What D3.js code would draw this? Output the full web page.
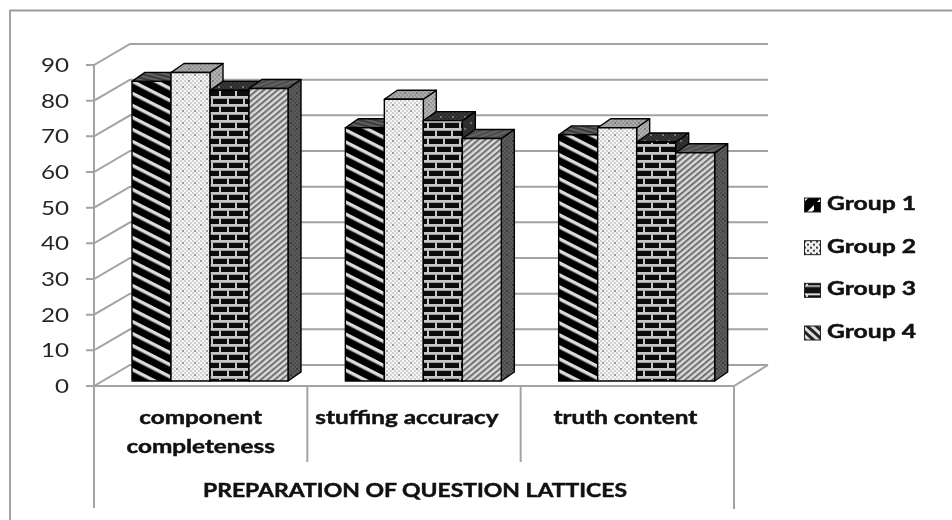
<!DOCTYPE html>
<html><head><meta charset="utf-8">
<script src="https://cdn.jsdelivr.net/npm/d3@7/dist/d3.min.js"></script>
<style>html,body{margin:0;padding:0;background:#fff}svg{display:block;filter:blur(.55px)}</style>
</head><body><svg id="c" width="952" height="520"></svg>
<script>
const categories=[["component","completeness"],["stuffing accuracy"],["truth content"]];
const groups=["Group 1","Group 2","Group 3","Group 4"];
const group1=[84,71,69];
const group2=[86.5,79,71];
const group3=[81.5,73,67];
const group4=[82,68,64];
const seriesValues=[group1,group2,group3,group4];
const yTicks=[0,10,20,30,40,50,60,70,80,90];
const axisTitle="PREPARATION OF QUESTION LATTICES";

const svg=d3.select("#c");
const defs=svg.append("defs");
const gridC="#a3a3a3";

function pat(id,w,h,bg,draw,tf){
  const p=defs.append("pattern").attr("id",id).attr("patternUnits","userSpaceOnUse").attr("width",w).attr("height",h);
  if(tf)p.attr("patternTransform",tf);
  p.append("rect").attr("width",w).attr("height",h).attr("fill",bg);
  draw(p);
}
const stripe=(id,w,bg,fg,sw,ang)=>pat(id,w,w,bg,p=>p.append("rect").attr("width",w).attr("height",sw).attr("fill",fg),`rotate(${ang})`);
function dots(id,bg,fg){pat(id,6,6,bg,p=>{
  p.append("rect").attr("x",0).attr("y",0).attr("width",2).attr("height",2).attr("fill",fg);
  p.append("rect").attr("x",3).attr("y",3).attr("width",2).attr("height",2).attr("fill",fg);
});}
function brick(id,bg,fg){pat(id,16,16,bg,p=>{
  const m=(x,y,w,h)=>p.append("rect").attr("x",x).attr("y",y).attr("width",w).attr("height",h).attr("fill",fg);
  m(0,0,16,2.8);m(0,8,16,2.8);m(3,2.8,2,5.2);m(11,10.8,2,5.2);
});}
function fine(id,bg,fg,dark){pat(id,12,12,bg,p=>{
  for(let i=0;i<12;i+=4)for(let j=0;j<12;j+=4){
    p.append("rect").attr("x",i).attr("y",j).attr("width",2).attr("height",2).attr("fill",fg);
    p.append("rect").attr("x",i+2).attr("y",j+2).attr("width",2).attr("height",2).attr("fill",fg);
  }
  [[2,2],[8,8]].forEach(d=>p.append("rect").attr("x",d[0]).attr("y",d[1]).attr("width",2).attr("height",2).attr("fill",dark));
});}
stripe("g1f",10.7,"#000","#dcdcdc",3.4,27);
fine("g2f","#f6f6f6","#d2d2d2","#9a9a9a");
brick("g3f","#0c0c0c","#c8c8c8");
stripe("g4f",4.4,"#dadada","#707070",2,-40);
stripe("g1t",4,"#3c3c3c","#6c6c6c",1.5,15);
fine("g2t","#ababab","#959595","#7d7d7d");
fine("g3t","#2c2c2c","#383838","#777");
stripe("g4t",4,"#4c4c4c","#626262",2,-20);
stripe("g1s",4,"#2a2a2a","#666",2,40);
fine("g2s","#b2b2b2","#9b9b9b","#808080");
fine("g3s","#333","#2a2a2a","#6b6b6b");
fine("g4s","#5c5c5c","#4c4c4c","#3a3a3a");
const faces=["g1","g2","g3","g4"];

const y=d3.scaleLinear().domain([0,90]).range([386,65]);
const x=d3.scaleBand().domain(d3.range(categories.length)).range([94,734]);
const depth={dx:36,dy:-21};
const barDepth={dx:13,dy:-9};
const barBase=381;
const barW=39;
const barPad=38;

// frame (open at the bottom and right)
svg.append("path").attr("d","M10,520V10.5H952").attr("fill","none").attr("stroke","#9b9b9b").attr("stroke-width",1.8);

// walls
const grid=svg.append("g").attr("stroke",gridC).attr("stroke-width",2).attr("fill","none");
yTicks.forEach(t=>{
  const yy=y(t);
  grid.append("path").attr("d",`M86,${yy}H94L${94+depth.dx},${yy+depth.dy}H768`);
});
grid.append("path").attr("d",`M94,${y(90)}V508`);
grid.append("path").attr("d",`M94,386H734L768,365`);
[1,2].forEach(i=>grid.append("path").attr("d",`M${x(i)},386V462`));
grid.append("path").attr("d",`M734,386V509`);

// stretched text helper
function label(sel,px,py,size,weight,fill,stretch,anchor,str){
  const t=sel.append("text").attr("transform",`translate(${px},${py}) scale(${stretch},1)`)
    .attr("text-anchor",anchor).attr("font-family","Lato,sans-serif").attr("font-size",size)
    .attr("font-weight",weight).attr("fill",fill).text(str);
  if(weight>=700)t.attr("stroke",fill).attr("stroke-width",.45);
  return t;
}

// y labels
const yl=svg.append("g");
yTicks.forEach(t=>label(yl,69,y(t)+7,19.5,400,"#262626",1.24,"end",t));

// bars
const bars=svg.append("g").attr("stroke","#000").attr("stroke-width",1.4).attr("stroke-linejoin","round");
const h=v=>y(0)-y(v);
categories.forEach((c,ci)=>{
  groups.forEach((g,gi)=>{
    const v=seriesValues[gi][ci];
    const l=x(ci)+barPad+gi*barW, r=l+barW, t=barBase-h(v), b=barBase;
    const {dx,dy}=barDepth;
    const G=bars.append("g");
    G.append("path").attr("d",`M${r},${b}L${r+dx},${b+dy}V${t+dy}L${r},${t}Z`).attr("fill",`url(#${faces[gi]}s)`);
    G.append("path").attr("d",`M${l},${t}L${l+dx},${t+dy}H${r+dx}L${r},${t}Z`).attr("fill",`url(#${faces[gi]}t)`);
    G.append("rect").attr("x",l).attr("y",t).attr("width",barW).attr("height",b-t).attr("fill",`url(#${faces[gi]}f)`);
  });
});

// category labels
const lab=svg.append("g");
const labelShift=[0,-7,-2];
categories.forEach((c,i)=>{
  const cx=x(i)+x.bandwidth()/2+labelShift[i];
  c.forEach((s,j)=>label(lab,cx,424+j*29,18,700,"#111",1.35,"middle",s));
});
label(svg,415,497,18.5,700,"#111",1.24,"middle",axisTitle);

// legend
const legendY=d3.scalePoint().domain(groups).range([204,332]);
const legendFace=["g1l","g2l","g3l","g4l"];
pat("g1l",17,17,"#000",p=>p.append("path").attr("d","M15,1L1,15H5L15,6Z").attr("fill","#fff"));
dots("g2l","#f0f0f0","#444");
pat("g3l",17,14,"#111",p=>{p.append("rect").attr("x",0).attr("y",4).attr("width",17).attr("height",2).attr("fill","#ddd");p.append("rect").attr("x",0).attr("y",10).attr("width",17).attr("height",1.5).attr("fill","#ddd");p.append("rect").attr("x",7).attr("y",6).attr("width",2).attr("height",4).attr("fill","#ddd");});
stripe("g4l",6,"#ddd","#222",3,42);
const leg=svg.append("g").selectAll("g").data(groups).join("g").attr("transform",d=>`translate(0,${legendY(d)})`);
leg.append("rect").attr("x",804.5).attr("y",-6).attr("width",16).attr("height",14).attr("fill",(d,i)=>`url(#${legendFace[i]})`).attr("stroke","#222").attr("stroke-width",1);
leg.each(function(d){label(d3.select(this),827,6,19,700,"#111",1.3,"start",d);});
</script></body></html>
